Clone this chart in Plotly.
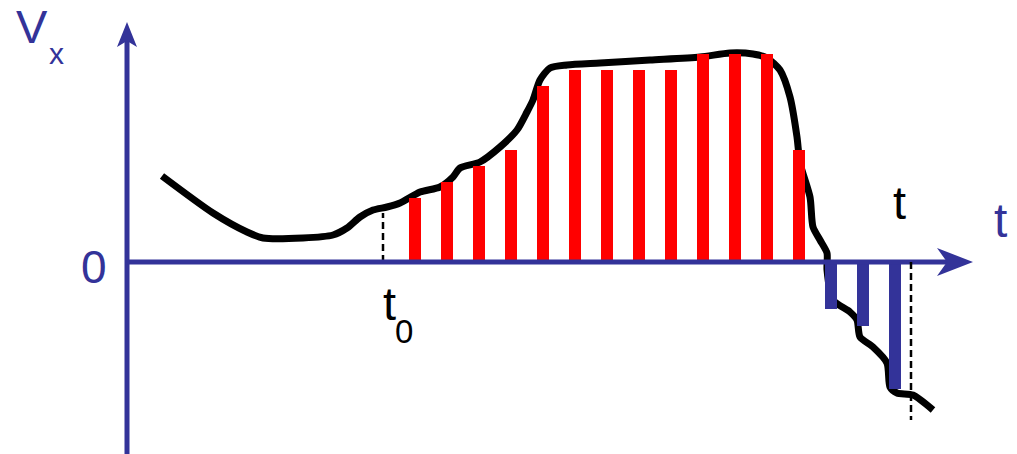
import plotly.graph_objects as go

# ---- data (x in time units ~ pixels, v = velocity) ----
curve_t = [162, 213, 247, 263, 303, 333, 347, 360, 373, 387, 400, 420, 440, 453, 460, 480,
           500, 517, 527, 533, 540, 550, 567, 600, 650, 700, 730, 753, 767, 780, 790, 797,
           800, 810, 813, 820, 827, 827, 833, 850, 857, 860, 873, 887, 890, 897, 913, 933]
curve_v = [86, 49, 30, 24, 24, 27, 34, 45, 52, 55, 59, 70, 75, 85, 94, 100,
           115, 132, 150, 162, 182, 194, 197, 199, 202, 205, 209, 208, 204, 192, 165, 125,
           99, 65, 35, 22, 9, -8, -38, -50, -58, -75, -85, -101, -125, -131, -133, -148]

pos_t = [415, 447, 479, 511, 543, 575, 607, 639, 671, 703, 735, 767, 799]
pos_v = [64, 80, 96, 112, 176, 192, 192, 192, 192, 208, 208, 208, 112]
neg_t = [831, 863, 895]
neg_v = [-47, -64, -127]

t0_x = 383
t0_v = 49
t_end_x = 911
t_end_v = -158

BLUE = "#333399"
RED = "#FF0000"
FONT = "Liberation Sans"

X_RANGE = [0, 1017]
Y_RANGE = [-192, 262]

fig = go.Figure()

fig.add_trace(go.Scatter(x=curve_t, y=curve_v, mode="lines",
                         line=dict(color="black", width=7, shape="spline", smoothing=0.7),
                         xaxis="x", yaxis="y", hoverinfo="skip"))

fig.add_trace(go.Bar(x=pos_t, y=pos_v, width=12, marker=dict(color=RED, line=dict(width=0)),
                     xaxis="x2", yaxis="y2"))
fig.add_trace(go.Bar(x=neg_t, y=neg_v, width=12, marker=dict(color=BLUE, line=dict(width=0)),
                     xaxis="x2", yaxis="y2"))

shapes = [
    # axes
    dict(type="line", xref="x", yref="y", x0=127, x1=127, y0=-192, y1=221,
         line=dict(color=BLUE, width=5), layer="above"),
    dict(type="line", xref="x", yref="y", x0=127, x1=947, y0=0, y1=0,
         line=dict(color=BLUE, width=5), layer="above"),
    # arrow heads
    dict(type="path", xref="x", yref="y", path="M 127 240 L 117 215 L 127 221 L 137 215 Z",
         fillcolor=BLUE, line=dict(width=0), layer="above"),
    dict(type="path", xref="x", yref="y", path="M 973 0 L 937 14 L 947 0 L 937 -14 Z",
         fillcolor=BLUE, line=dict(width=0), layer="above"),
    # dashed markers
    dict(type="line", xref="x", yref="y", x0=t0_x, x1=t0_x, y0=0, y1=t0_v,
         line=dict(color="black", width=2.5, dash="7px,4px"), layer="below"),
    dict(type="line", xref="x", yref="y", x0=t_end_x, x1=t_end_x, y0=0, y1=t_end_v,
         line=dict(color="black", width=2.5, dash="7px,4px"), layer="above"),
]

def ann(text, x, y, size, color):
    return dict(text=text, x=x, y=y, xref="x", yref="y", showarrow=False,
                xanchor="center", yanchor="middle",
                font=dict(family=FONT, size=size, color=color))

annotations = [
    ann("V", 32, 236, 47, BLUE),
    ann("x", 56, 209, 30, BLUE),
    ann("0", 94, -4.5, 46, BLUE),
    ann("t", 389, -41.5, 47, "black"),
    ann("0", 403.5, -69.5, 33, "black"),
    ann("t", 899, 59.5, 47, "black"),
    ann("t", 1000, 42, 48, BLUE),
]

axis_common = dict(visible=False, showgrid=False, zeroline=False, fixedrange=True)
fig.update_layout(
    width=1017, height=454,
    margin=dict(l=0, r=0, t=0, b=0),
    paper_bgcolor="white", plot_bgcolor="white",
    showlegend=False,
    bargap=0,
    xaxis=dict(range=X_RANGE, **axis_common),
    yaxis=dict(range=Y_RANGE, **axis_common),
    xaxis2=dict(range=X_RANGE, overlaying="x", **axis_common),
    yaxis2=dict(range=Y_RANGE, overlaying="y", **axis_common),
    shapes=shapes,
    annotations=annotations,
)

fig.write_html("out.html", config=dict(displayModeBar=False),
               post_script="document.body.style.margin='0';document.body.style.overflow='hidden';")
